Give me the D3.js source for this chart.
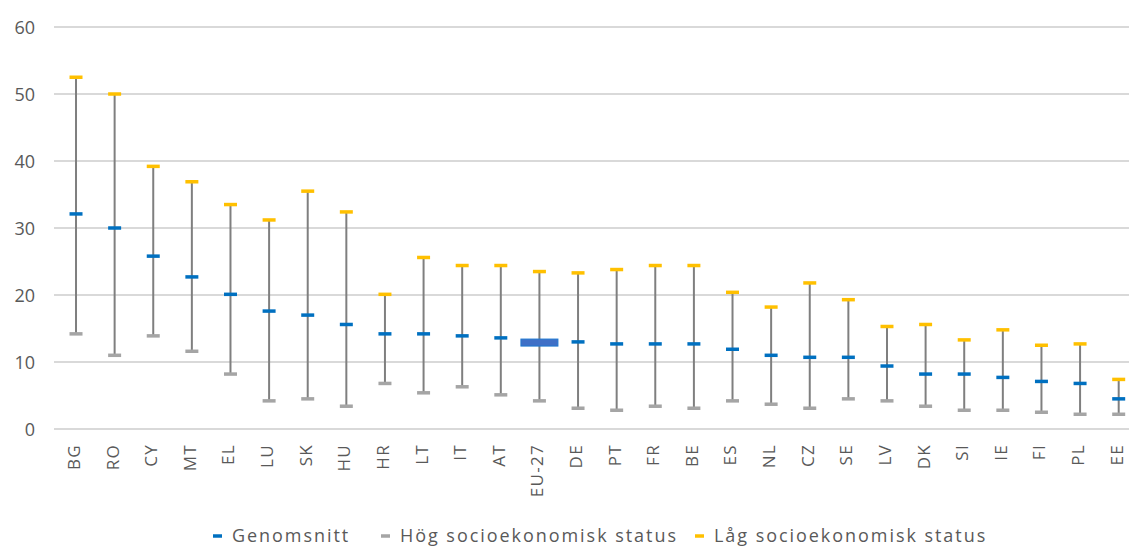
<!DOCTYPE html>
<html><head><meta charset="utf-8">
<script src="https://cdn.jsdelivr.net/npm/d3@7"></script>
<style>
html,body{margin:0;padding:0;background:#fff;}
svg{display:block;}
text{font-family:"Open Sans","Noto Sans",sans-serif;fill:#595959;}
</style></head>
<body>
<svg id="chart" width="1129" height="547"></svg>
<script>
const categories = ["BG","RO","CY","MT","EL","LU","SK","HU","HR","LT","IT","AT","EU-27","DE","PT","FR","BE","ES","NL","CZ","SE","LV","DK","SI","IE","FI","PL","EE"];
const genomsnitt = [32.1,30.0,25.8,22.7,20.1,17.6,17.0,15.6,14.2,14.2,13.9,13.6,12.9,13.0,12.7,12.7,12.7,11.9,11.0,10.7,10.7,9.4,8.2,8.2,7.7,7.1,6.8,4.5];
const hogStatus = [14.2,11.0,13.9,11.6,8.2,4.2,4.5,3.4,6.8,5.4,6.3,5.1,4.2,3.1,2.8,3.4,3.1,4.2,3.7,3.1,4.5,4.2,3.4,2.8,2.8,2.5,2.2,2.2];
const lagStatus = [52.5,50.0,39.2,36.9,33.5,31.2,35.5,32.4,20.1,25.6,24.4,24.4,23.5,23.3,23.8,24.4,24.4,20.4,18.2,21.8,19.3,15.3,15.6,13.3,14.8,12.5,12.7,7.4];
const yTicks = [0,10,20,30,40,50,60];
const seriesNames = ["Genomsnitt","Hög socioekonomisk status","Låg socioekonomisk status"];
const seriesColors = ["#0070C0","#A5A5A5","#FFC000"];

const svg = d3.select("#chart");
const x = d3.scaleBand().domain(categories).range([56.7, 1138]);
const y = d3.scaleLinear().domain([0,60]).range([429, 27]);

// gridlines
svg.append("g").selectAll("line").data(yTicks).join("line")
  .attr("x1", 54).attr("x2", 1139)
  .attr("y1", d => y(d)).attr("y2", d => y(d))
  .attr("stroke", "#D9D9D9").attr("stroke-width", 1.8);

// y axis labels
const yAxis = d3.axisLeft(y).tickValues(yTicks).tickSize(0).tickPadding(0);
const ya = svg.append("g").attr("transform", "translate(35,0)").call(yAxis);
ya.select(".domain").remove();
ya.selectAll("text").style("font-size","18px").style("fill","#595959")
  .style("font-family","'Open Sans','Noto Sans',sans-serif").attr("dy","0.35em");

// x axis labels
const xAxis = d3.axisBottom(x).tickSize(0).tickPadding(0);
const xa = svg.append("g").attr("transform", "translate(-2,444)").call(xAxis);
xa.select(".domain").remove();
xa.selectAll("text")
  .style("font-size","17px").style("fill","#595959")
  .style("font-family","'Open Sans','Noto Sans',sans-serif")
  .style("letter-spacing","1.3px")
  .attr("text-anchor","end")
  .attr("transform","rotate(-90)")
  .attr("x", 0).attr("y", 0).attr("dy","0.35em");

const cx = d => x(d) + x.bandwidth()/2;
const rows = categories.map((c,i) => ({c, m: genomsnitt[i], h: hogStatus[i], l: lagStatus[i]}));

// vertical range lines
svg.append("g").selectAll("line").data(rows).join("line")
  .attr("x1", d => cx(d.c)).attr("x2", d => cx(d.c))
  .attr("y1", d => y(d.l)).attr("y2", d => y(d.h))
  .attr("stroke", "#7F7F7F").attr("stroke-width", 2);

const capW = 13;
// high status (gray) caps
svg.append("g").selectAll("line").data(rows).join("line")
  .attr("x1", d => cx(d.c) - capW/2).attr("x2", d => cx(d.c) + capW/2)
  .attr("y1", d => y(d.h)).attr("y2", d => y(d.h))
  .attr("stroke", seriesColors[1]).attr("stroke-width", 3.5);
// low status (yellow) caps
svg.append("g").selectAll("line").data(rows).join("line")
  .attr("x1", d => cx(d.c) - capW/2).attr("x2", d => cx(d.c) + capW/2)
  .attr("y1", d => y(d.l)).attr("y2", d => y(d.l))
  .attr("stroke", seriesColors[2]).attr("stroke-width", 3.5);
// mean markers
svg.append("g").selectAll("line").data(rows.filter(d => d.c !== "EU-27")).join("line")
  .attr("x1", d => cx(d.c) - capW/2).attr("x2", d => cx(d.c) + capW/2)
  .attr("y1", d => y(d.m)).attr("y2", d => y(d.m))
  .attr("stroke", seriesColors[0]).attr("stroke-width", 3.5);
// EU-27 highlighted mean
svg.append("g").selectAll("rect").data(rows.filter(d => d.c === "EU-27")).join("rect")
  .attr("x", d => cx(d.c) - 18.5).attr("width", 37)
  .attr("y", d => y(d.m) - 3.5).attr("height", 7)
  .attr("fill", "#3F6FC6").attr("stroke", "#1F77D0").attr("stroke-width", 1);

// legend
const legendX = [213, 381, 695];
const lg = svg.append("g").selectAll("g").data(seriesNames).join("g")
  .attr("transform", (d,i) => `translate(${legendX[i]},536)`);
lg.append("line").attr("x1",0).attr("x2",9).attr("y1",0).attr("y2",0)
  .attr("stroke",(d,i)=>seriesColors[i]).attr("stroke-width",3.5);
lg.append("text").attr("x",19).attr("y",0).attr("dy","0.35em")
  .style("font-size","18px").style("letter-spacing","1.95px")
  .text(d=>d);
</script>
</body></html>
